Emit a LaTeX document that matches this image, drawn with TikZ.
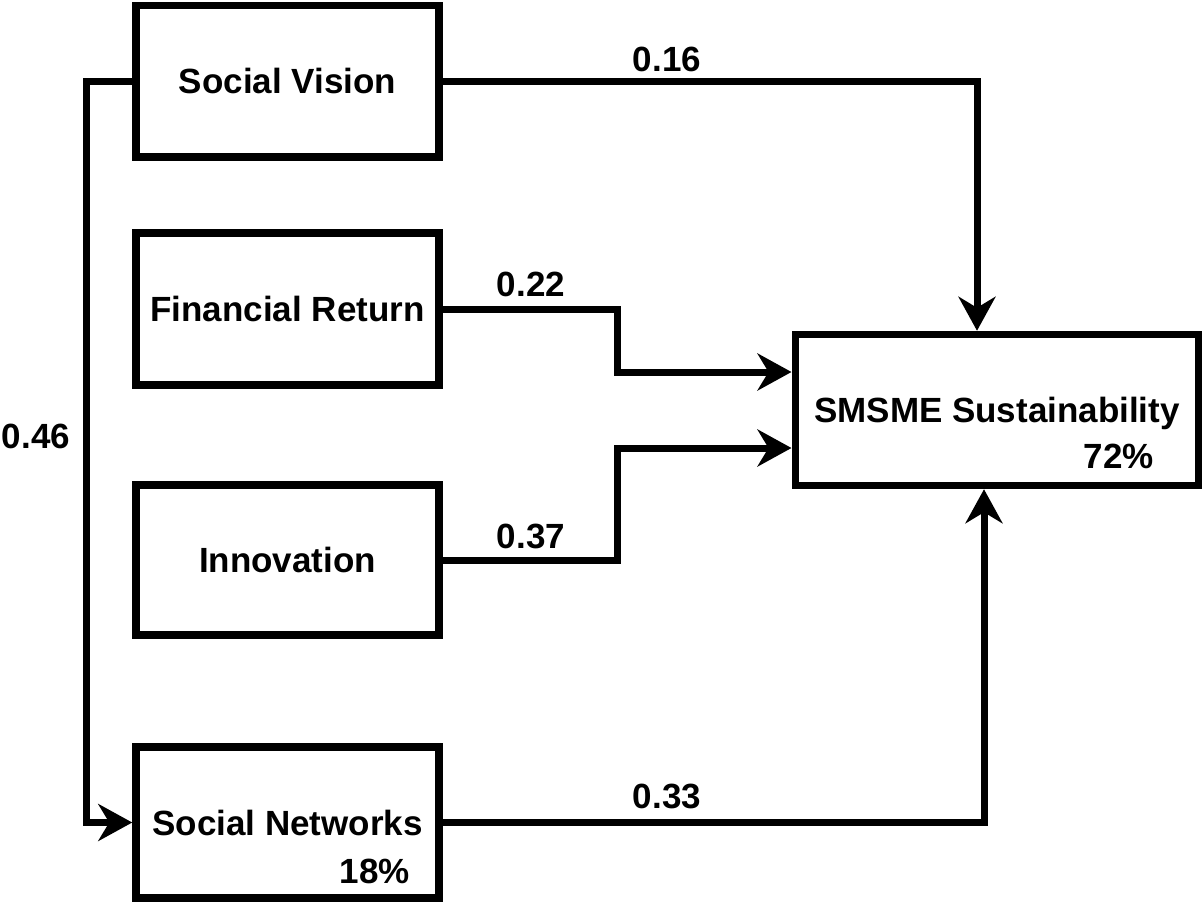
\documentclass[tikz,border=0pt]{standalone}
\usepackage{fontspec}
\setmainfont{Liberation Sans}
\usetikzlibrary{arrows.meta}
\begin{document}
\begin{tikzpicture}[x=1pt,y=-1pt,
  box/.style={draw,line width=7.5pt,minimum width=303pt,inner sep=0pt,
    font=\fontsize{35}{40}\selectfont\bfseries,text height=25pt,text depth=0pt},
  lab/.style={font=\fontsize{35}{40}\selectfont\bfseries,inner sep=0pt,anchor=base},
  conn/.style={line width=7pt,line join=miter,
    -{Stealth[length=34pt,width=37pt,inset=11pt]}}]
\useasboundingbox (0,0) rectangle (1202,903);
\node[box,minimum height=151.5pt] (sv) at (287.5,81.25) {Social Vision};
\node[box,minimum height=152pt] (fr) at (287.5,309) {Financial Return};
\node[box,minimum height=150pt] (inn) at (287.5,560) {Innovation};
\node[box,minimum height=151pt] (sn) at (287.5,822.5) {Social Networks};
\node[box,minimum width=403.5pt,minimum height=151pt] (sm) at (997,410) {SMSME Sustainability};
\node[lab,anchor=base east] (snp) at (410,883) {18\%};
\node[lab,anchor=base east] (smp) at (1154,468) {72\%};
\coordinate (c46) at (86,81.25);
\coordinate (c22) at (617,309);
\coordinate (c37) at (617,560);
\draw[conn] (sv.west) -- (c46) |- (sn.west);
\draw[conn] (sv.east) -| ([xshift=-20pt]sm.north);
\draw[conn] (fr.east) -- (c22) |- ([yshift=38pt]sm.west);
\draw[conn] (inn.east) -- (c37) |- ([yshift=-38pt]sm.west);
\draw[conn] (sn.east) -| ([xshift=-13pt]sm.south);
\node[lab] (l16) at (667,71) {0.16};
\node[lab] (l22) at (531,296.5) {0.22};
\node[lab] (l37) at (531,548) {0.37};
\node[lab] (l33) at (667,808) {0.33};
\node[lab] (l46) at (36,448) {0.46};
\end{tikzpicture}
\end{document}
